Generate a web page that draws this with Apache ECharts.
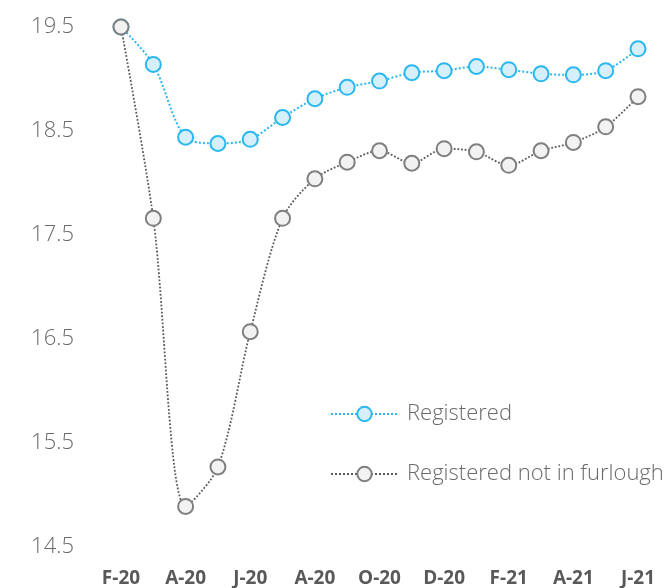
<!DOCTYPE html>
<html>
<head>
<meta charset="utf-8">
<script src="https://cdn.jsdelivr.net/npm/echarts@6/dist/echarts.min.js"></script>
<style>
html,body{margin:0;padding:0;background:#fff;}
#chart{width:671px;height:588px;}
</style>
</head>
<body>
<div id="chart"></div>
<script>
const categories = ['F-20','M-20','A-20','M-20','J-20','J-20','A-20','S-20','O-20','N-20','D-20','J-21','F-21','M-21','A-21','M-21','J-21'];
const registered = [19.5,19.14,18.44,18.38,18.42,18.63,18.81,18.92,18.98,19.06,19.08,19.12,19.09,19.05,19.04,19.08,19.29];
const notFurlough = [19.5,17.66,14.89,15.27,16.57,17.66,18.04,18.20,18.31,18.19,18.33,18.30,18.17,18.31,18.39,18.54,18.83];
const seriesNames = ['Registered','Registered not in furlough'];

const chart = echarts.init(document.getElementById('chart'));
chart.setOption({
  animation: false,
  backgroundColor: '#ffffff',
  grid: {left: 121, right: 33, top: 27, bottom: 38, containLabel: false},
  legend: {
    orient: 'vertical',
    left: 325,
    top: 398,
    itemWidth: 67,
    itemHeight: 18,
    itemGap: 38,
    textStyle: {fontFamily: 'Open Sans', fontWeight: 300, fontSize: 22, color: '#6a6a6a', lineHeight: 22, padding: [0,0,0,4]},
    data: seriesNames
  },
  xAxis: {
    type: 'category',
    data: categories,
    boundaryGap: false,
    axisLine: {show: false},
    axisTick: {show: false},
    splitLine: {show: false},
    axisLabel: {
      interval: 1,
      margin: 22,
      fontFamily: 'Open Sans',
      fontWeight: 'bold',
      fontSize: 19,
      color: '#595959'
    }
  },
  yAxis: {
    type: 'value',
    min: 14.5,
    max: 19.5,
    interval: 1,
    axisLine: {show: false},
    axisTick: {show: false},
    splitLine: {show: false},
    axisLabel: {
      margin: 47,
      fontFamily: 'Open Sans',
      fontWeight: 300,
      fontSize: 22,
      color: '#6a6a6a',
      formatter: v => v.toFixed(1)
    }
  },
  series: [
    {
      name: seriesNames[0],
      type: 'line',
      data: registered,
      smooth: 0.3,
      symbol: 'circle',
      symbolSize: 15,
      z: 2,
      lineStyle: {color: '#2bb7ef', width: 2, type: 'dotted'},
      itemStyle: {color: '#d5f0fb', borderColor: '#2bb7ef', borderWidth: 2}
    },
    {
      name: seriesNames[1],
      type: 'line',
      data: notFurlough,
      smooth: 0.3,
      symbol: 'circle',
      symbolSize: 15,
      z: 3,
      lineStyle: {color: '#595959', width: 1.8, type: 'dotted'},
      itemStyle: {color: '#f2f2f2', borderColor: '#7f7f7f', borderWidth: 2}
    }
  ]
});
</script>
</body>
</html>
